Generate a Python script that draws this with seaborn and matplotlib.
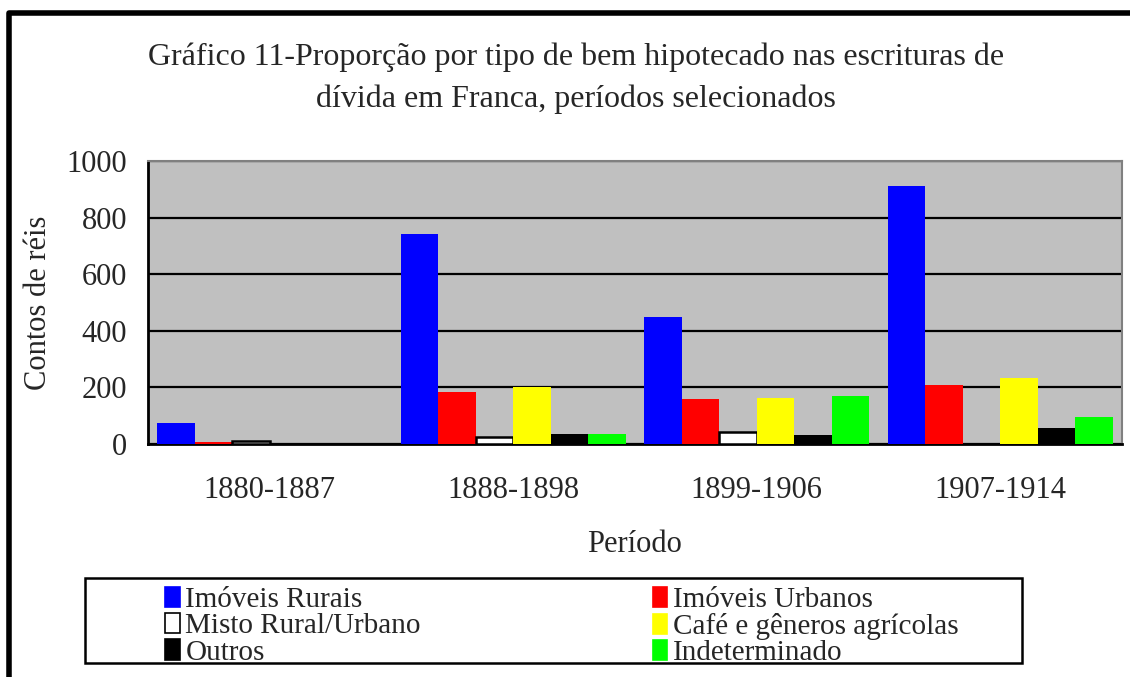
import pandas as pd
import matplotlib
matplotlib.use("Agg")
import matplotlib.pyplot as plt
import seaborn as sns
from matplotlib.patches import Patch, Rectangle
from matplotlib.lines import Line2D

# values (contos de réis)
periodos = ["1880-1887", "1888-1898", "1899-1906", "1907-1914"]
tipos = ["Imóveis Rurais", "Imóveis Urbanos", "Misto Rural/Urbano",
         "Café e gêneros agrícolas", "Outros", "Indeterminado"]
imoveis_rurais = [74, 742, 450, 910]
imoveis_urbanos = [7, 184, 160, 210]
misto = [12, 24, 41, 0]
cafe = [0, 202, 164, 234]
outros = [0, 35, 33, 58]
indeterminado = [0, 35, 171, 97]
cores = ["#0000FF", "#FF0000", "#FFFFFF", "#FFFF00", "#000000", "#00FF00"]

series = [imoveis_rurais, imoveis_urbanos, misto, cafe, outros, indeterminado]
rows = []
for tipo, vals in zip(tipos, series):
    for p, v in zip(periodos, vals):
        rows.append({"Período": p, "Tipo": tipo, "Valor": v})
df = pd.DataFrame(rows)

sns.set_style("white")
plt.rcParams["font.family"] = ["Liberation Serif", "DejaVu Serif"]
fs = 22

fig = plt.figure(figsize=(11.3, 6.77), dpi=100)
ax = fig.add_axes([148 / 1130, 1 - 444 / 677, (1122 - 148) / 1130, (444 - 161) / 677])
ax.set_facecolor("#C0C0C0")

sns.barplot(data=df, x="Período", y="Valor", hue="Tipo", hue_order=tipos,
            order=periodos, palette=cores, saturation=1, width=0.925, gap=0,
            ax=ax, linewidth=0, legend=False, zorder=3)

# white bar has a black outline
for bar in ax.containers[2]:
    bar.set_edgecolor("black")
    bar.set_linewidth(1.8)
    if bar.get_height() == 0:
        bar.set_visible(False)

ax.set_ylim(0, 1000)
ax.set_xlim(-0.5, 3.5)
ax.set_yticks(range(0, 1001, 200))
ax.set_xticks([-0.5, 0.5, 1.5, 2.5, 3.5])
ax.set_xticklabels([])
ax.set_xticks(range(4), minor=True)
ax.set_xticklabels(periodos, minor=True)
ax.tick_params(axis="x", which="major", direction="out", length=10, width=2, color="black")
ax.tick_params(axis="x", which="minor", length=0, pad=23, labelsize=fs)
ax.tick_params(axis="y", direction="out", length=9, width=2, color="black", labelsize=fs, pad=6)

ax.yaxis.grid(True, color="black", linewidth=1.6)
ax.set_axisbelow(True)

for s in ["top", "right"]:
    ax.spines[s].set_color("#808080")
    ax.spines[s].set_linewidth(1.5)
for s in ["left", "bottom"]:
    ax.spines[s].set_color("black")
    ax.spines[s].set_linewidth(2)

ax.set_xlabel("Período", fontsize=fs, labelpad=18)
ax.set_ylabel("Contos de réis", fontsize=fs, labelpad=10)

fig.text(0.51, 1 - 78 / 677,
         "Gráfico 11-Proporção por tipo de bem hipotecado nas escrituras de\n"
         "dívida em Franca, períodos selecionados",
         ha="center", va="center", fontsize=23, linespacing=1.55)

# legend with its own black frame
fig.patches.append(Rectangle((85 / 1130, 1 - 663 / 677), (1022 - 85) / 1130, 85 / 677,
                             transform=fig.transFigure, fill=False,
                             edgecolor="black", linewidth=1.8))
handles = [Patch(facecolor=c, edgecolor="black" if c == "#FFFFFF" else c, linewidth=1.2)
           for c in cores]
# matplotlib fills legend columns first, reference reads row by row
idx = [0, 2, 4, 1, 3, 5]
fig.legend([handles[i] for i in idx], [tipos[i] for i in idx], ncol=2, loc="upper left",
           bbox_to_anchor=(165 / 1130, 1 - 587 / 677), frameon=False,
           fontsize=21, handlelength=0.5, handleheight=0.68, handletextpad=0.2,
           labelspacing=0.0, columnspacing=7.95, borderpad=0, borderaxespad=0)

# outer chart frame (left and top edges visible)
fig.lines.append(Line2D([9 / 1130, 9 / 1130, 1], [0, 1 - 13 / 677, 1 - 13 / 677],
                        transform=fig.transFigure, color="black", linewidth=4))

fig.savefig("out.png", dpi=100)
